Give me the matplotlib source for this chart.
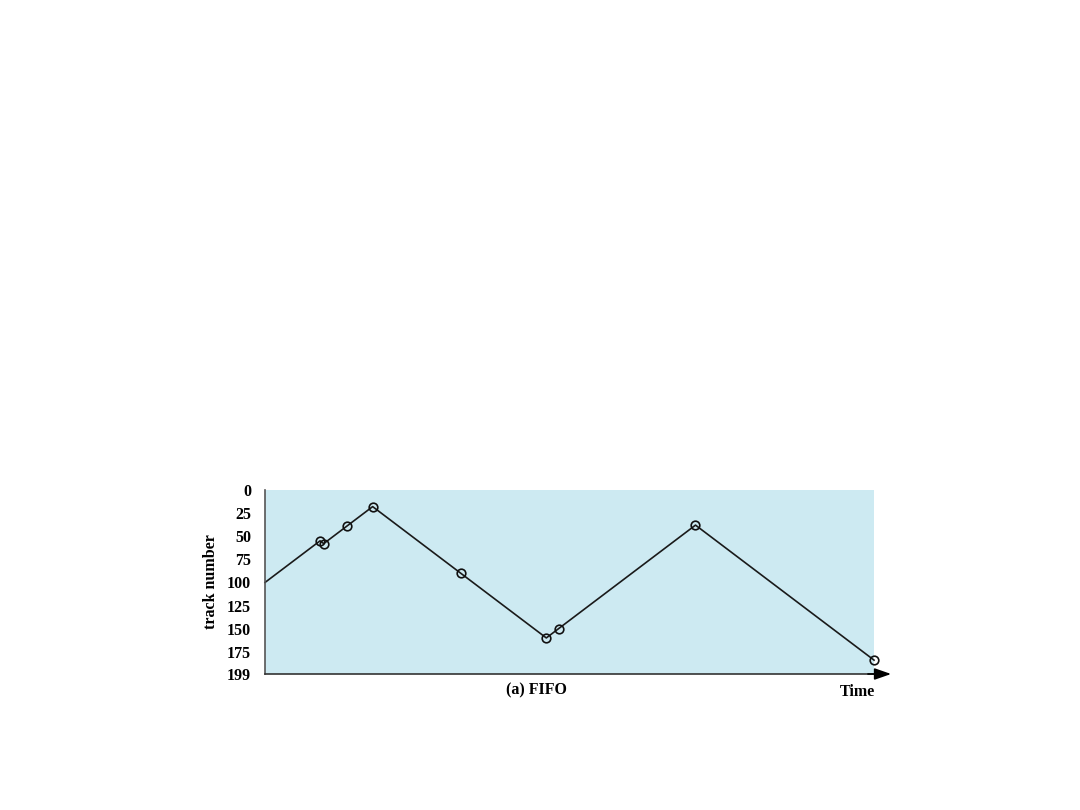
import matplotlib
matplotlib.use("Agg")
import matplotlib.pyplot as plt

# FIFO 磁盘调度：起始磁道 100，请求序列 55, 58, 39, 18, 90, 160, 150, 38, 184
TIME = [0, 45, 48, 67, 88, 160, 230, 240, 352, 498]
TRACK = [100, 55, 58, 39, 18, 90, 160, 150, 38, 184]
Y_TICKS = [0, 25, 50, 75, 100, 125, 150, 175, 199]
TITLE = "(a) FIFO"

plt.rcParams["font.family"] = ["Liberation Serif", "DejaVu Serif"]
plt.rcParams["font.weight"] = "bold"

fig = plt.figure(figsize=(10.8, 8.1), dpi=100)
ax = fig.add_axes([0.2454, 0.1679, 0.5639, 0.2272])
ax.set_facecolor("#cdeaf2")

ax.plot(TIME, TRACK, color="#1a1a1a", lw=1.2, zorder=2, clip_on=False)
ax.plot(TIME[1:], TRACK[1:], ls="none", marker="o", ms=6.2, mfc="none",
        mec="#111111", mew=1.2, zorder=3, clip_on=False)

ax.set_xlim(0, TIME[-1])
ax.set_ylim(199, 0)
ax.set_yticks(Y_TICKS)
ax.set_yticklabels([str(v) for v in Y_TICKS], fontsize=11.5, fontweight="bold")
ax.set_xticks([])
ax.tick_params(axis="y", length=0, pad=10)

for side in ("top", "right"):
    ax.spines[side].set_visible(False)
ax.spines["left"].set_color("#555555")
ax.spines["left"].set_linewidth(1.2)
ax.spines["bottom"].set_color("#333333")
ax.spines["bottom"].set_linewidth(1.2)

# 时间轴箭头
ax.annotate("", xy=(1.028, 0), xycoords="axes fraction",
            xytext=(0.99, 0), textcoords="axes fraction",
            arrowprops=dict(arrowstyle="-|>,head_length=1.0,head_width=0.35",
                            color="black", lw=1.2, shrinkA=0, shrinkB=0))

ax.set_ylabel("track number", fontsize=11.5, fontweight="bold", labelpad=6)
ax.text(0.445, -0.09, TITLE, transform=ax.transAxes, ha="center", va="center",
        fontsize=11.5, fontweight="bold")
ax.text(0.972, -0.10, "Time", transform=ax.transAxes, ha="center", va="center",
        fontsize=11.5, fontweight="bold")

fig.savefig("out.png", dpi=100)
